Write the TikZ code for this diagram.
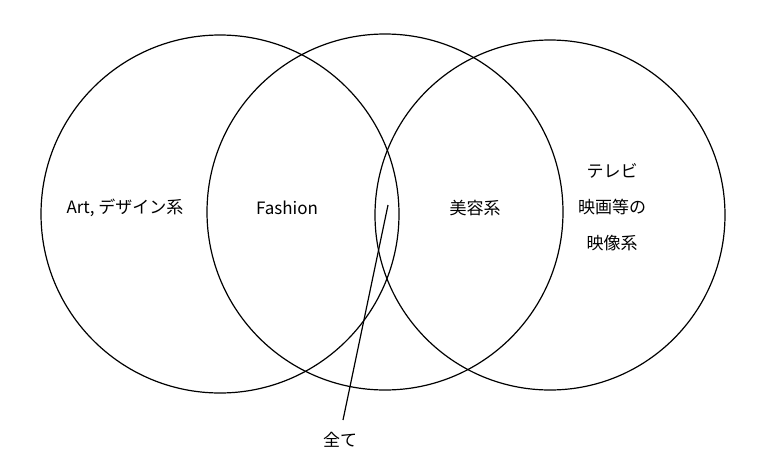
\documentclass[tikz,border=0pt]{standalone}
\usepackage{fontspec}
\setmainfont{Noto Sans CJK JP}
\usetikzlibrary{positioning}
\begin{document}
\begin{tikzpicture}[x=1pt, y=-1pt,
    ring/.style={draw, line width=1.2pt},
    label/.style={font=\fontsize{17}{36}\selectfont, align=center}
  ]
  \useasboundingbox (0,0) rectangle (768,469);

  % Circles
  \draw[ring] (220,214) circle (179);
  \draw[ring] (385,212) circle (178);
  \draw[ring] (550,215) circle (175);

  % Labels
  \node[label] (art) at (125,208) {Art, デザイン系};
  \node[label] (fashion) at (287,208) {Fashion};
  \node[label] (beauty) at (475,208) {美容系};
  \node[label] (tv) at (612,207) {テレビ\\映画等の\\映像系};
  \node[label] (all) at (340,440) {全て};

  % Pointer
  \coordinate (centre) at (388,205);
  \coordinate (tip) at (343,420);
  \draw[line width=1.2pt] (centre) -- (tip);
\end{tikzpicture}
\end{document}
